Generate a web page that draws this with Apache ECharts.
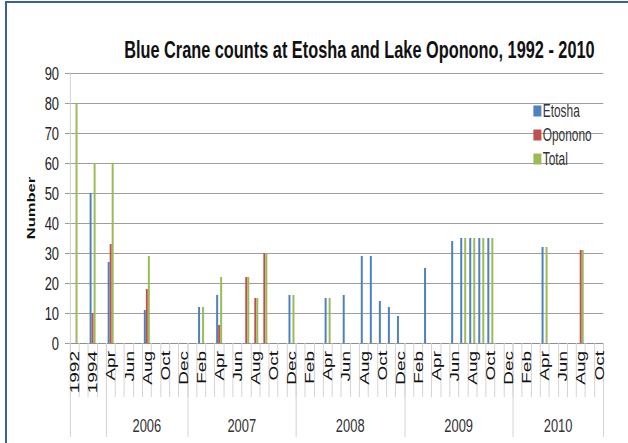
<!DOCTYPE html>
<html>
<head>
<meta charset="utf-8">
<script src="https://cdn.jsdelivr.net/npm/echarts@6/dist/echarts.min.js"></script>
<style>
  html, body { margin: 0; padding: 0; background: #fff; overflow: hidden; }
  #frame { position: absolute; left: 5px; top: 1px; width: 700px; height: 500px;
           border-left: 2px solid #3A5F9A; border-top: 2px solid #3A5F9A; box-sizing: border-box; }
  #chart { position: absolute; left: 0; top: 0; height: 443px; transform-origin: 0 0; }
</style>
</head>
<body>
<div id="frame"></div>
<div id="chart"></div>
<script>
// Survey periods: early years, then monthly counts from April 2006 to October 2010
const earlyYears = ['1992', '1993', '1994', '1995'];
const monthNames = ['Jan', 'Feb', 'Mar', 'Apr', 'May', 'Jun', 'Jul', 'Aug', 'Sep', 'Oct', 'Nov', 'Dec'];
const surveyYears = ['2006', '2007', '2008', '2009', '2010'];
const firstMonth = [3, 0, 0, 0, 0];   // month index where each year's run starts
const lastMonth = [11, 11, 11, 11, 9]; // month index where each year's run ends

// Blue Crane counts per period (null = no count)
const etosha = [
  null, null, 50, null,
  27, null, null, null, 11, null, null, null, null,
  null, 12, null, 16, null, null, null, null, null, null, null, 16,
  null, null, null, 15, null, 16, null, 29, 29, 14, 12, 9,
  null, null, 25, null, null, 34, 35, 35, 35, 35, null, null,
  null, null, null, 32, null, null, null, null, null, null
];
const oponono = [
  null, null, 10, null,
  33, null, null, null, 18, null, null, null, null,
  null, null, null, 6, null, null, 22, 15, 30, null, null, null,
  null, null, null, null, null, null, null, null, null, null, null, null,
  null, null, null, null, null, null, null, null, null, null, null, null,
  null, null, null, null, null, null, null, 31, null, null
];
const total = [
  80, null, 60, null,
  60, null, null, null, 29, null, null, null, null,
  null, 12, null, 22, null, null, 22, 15, 30, null, null, 16,
  null, null, null, 15, null, null, null, null, null, null, null, null,
  null, null, null, null, null, null, 35, 35, 35, 35, null, null,
  null, null, null, 32, null, null, null, 31, null, null
];

// Category labels and year group boundaries for the two-level axis
const periods = earlyYears.slice();
const groupEdges = [0];
surveyYears.forEach((y, i) => {
  groupEdges.push(periods.length);
  for (let m = firstMonth[i]; m <= lastMonth[i]; m++) periods.push(monthNames[m]);
});
groupEdges.push(periods.length);
const yearCenters = [];
for (let i = 1; i < groupEdges.length - 1; i++) {
  yearCenters.push((groupEdges[i] + groupEdges[i + 1]) / 2);
}

// The drawing is laid out wide and compressed horizontally for a narrow type look
const S = 0.68;
const sx = v => v / S;
const el = document.getElementById('chart');
el.style.width = sx(628) + 'px';
el.style.transform = 'scaleX(' + S + ')';

const font = 'Liberation Sans, Arial, sans-serif';
const chart = echarts.init(el, null, { renderer: 'svg' });
chart.setOption({
  animation: false,
  backgroundColor: 'transparent',
  title: {
    text: 'Blue Crane counts at Etosha and Lake Oponono, 1992 - 2010',
    left: sx(356), top: 32, textAlign: 'center',
    textStyle: { fontFamily: font, fontWeight: 'bold', fontSize: 24, color: '#111' }
  },
  legend: {
    orient: 'vertical', left: sx(530), top: 97,
    itemWidth: sx(8), itemHeight: 11, itemGap: 6, itemSymbolKeepAspect: false,
    icon: 'rect',
    textStyle: { fontFamily: font, fontSize: 17.5, lineHeight: 17, color: '#333', padding: [0, 0, 0, -3] },
    data: ['Etosha', 'Oponono', 'Total']
  },
  grid: { left: sx(70), right: sx(25), top: 73, bottom: 100, containLabel: false },
  xAxis: [
    {
      type: 'category', data: periods, position: 'bottom', boundaryGap: true,
      axisLine: { show: true, lineStyle: { color: '#8C8C8C', width: 1 } },
      axisTick: { show: true, interval: 0, length: 54, lineStyle: { color: '#D4D4D4', width: sx(1) } },
      axisLabel: { interval: 1, rotate: 90, margin: 8, fontFamily: font, fontSize: 19, color: '#111' }
    },
    {
      type: 'value', min: 0, max: periods.length, position: 'bottom', offset: 0,
      axisLine: { show: false }, splitLine: { show: false },
      axisTick: { show: true, customValues: groupEdges, length: 94, lineStyle: { color: '#D4D4D4', width: sx(1) } },
      axisLabel: {
        customValues: yearCenters, margin: 72, fontFamily: font, fontSize: 19, color: '#333',
        formatter: v => surveyYears[yearCenters.indexOf(v)] || ''
      }
    }
  ],
  yAxis: {
    type: 'value', min: 0, max: 90, interval: 10,
    name: 'Number', nameLocation: 'middle', nameGap: sx(25), nameRotate: 90,
    nameTextStyle: { fontFamily: font, fontWeight: 'bold', fontSize: 16.5, color: '#111' },
    axisLine: { show: true, lineStyle: { color: '#D4D4D4', width: sx(1) } },
    axisTick: { show: true, length: sx(5), lineStyle: { color: '#8C8C8C' } },
    axisLabel: { margin: sx(11), fontFamily: font, fontSize: 19, color: '#222' },
    splitLine: { show: true, lineStyle: { color: '#8C8C8C', width: 1 } }
  },
  series: [
    { name: 'Etosha', type: 'bar', data: etosha, barWidth: sx(2), barGap: '0%', itemStyle: { color: '#4F81BD' } },
    { name: 'Oponono', type: 'bar', data: oponono, barWidth: sx(2), barGap: '0%', itemStyle: { color: '#C0504D' } },
    { name: 'Total', type: 'bar', data: total, barWidth: sx(2), barGap: '0%', itemStyle: { color: '#9BBB59' } }
  ]
});
</script>
</body>
</html>
